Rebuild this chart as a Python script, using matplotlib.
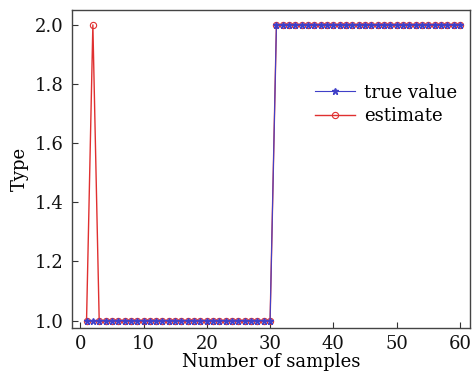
import numpy as np
import matplotlib
matplotlib.use('Agg')
import matplotlib.pyplot as plt

plt.rcParams['font.family'] = ['DejaVu Serif']

# samples 1..60
samples = list(range(1, 61))
true_value = [1] * 30 + [2] * 30
estimate = [1, 2] + [1] * 28 + [2] * 30

fig = plt.figure(figsize=(4.72, 3.83), dpi=100)
ax = fig.add_axes([0.1525, 0.1436, 0.8435, 0.830])

ax.plot(samples, estimate, color='#e03030', linewidth=1.0, marker='o',
        markersize=4.5, markerfacecolor='none', markeredgewidth=0.8,
        label='estimate', zorder=2)
ax.plot(samples, true_value, color='#4040c8', linewidth=0.8, marker='*',
        markersize=5, label='true value', zorder=3)

ax.set_xlim(-1.3, 61.6)
ax.set_ylim(0.975, 2.05)
ax.set_xticks([0, 10, 20, 30, 40, 50, 60])
ax.set_yticks([1.0, 1.2, 1.4, 1.6, 1.8, 2.0])
ax.yaxis.set_major_formatter(matplotlib.ticker.FormatStrFormatter('%.1f'))
ax.tick_params(direction='in', labelsize=13, length=4, colors='#333333',
               labelcolor='#111111')
ax.tick_params(axis='x', pad=5)
ax.tick_params(axis='y', pad=6)
for s in ax.spines.values():
    s.set_color('#444444')
    s.set_linewidth(1.0)

ax.set_xlabel('Number of samples', fontsize=13, labelpad=0)
ax.set_ylabel('Type', fontsize=13, labelpad=4)

h, l = ax.get_legend_handles_labels()
ax.legend(h[::-1], l[::-1], loc='upper left', bbox_to_anchor=(0.57, 0.82),
          frameon=False, fontsize=13, handlelength=2.2, handletextpad=0.5,
          labelspacing=0.3)

fig.savefig('out.png', dpi=100)
